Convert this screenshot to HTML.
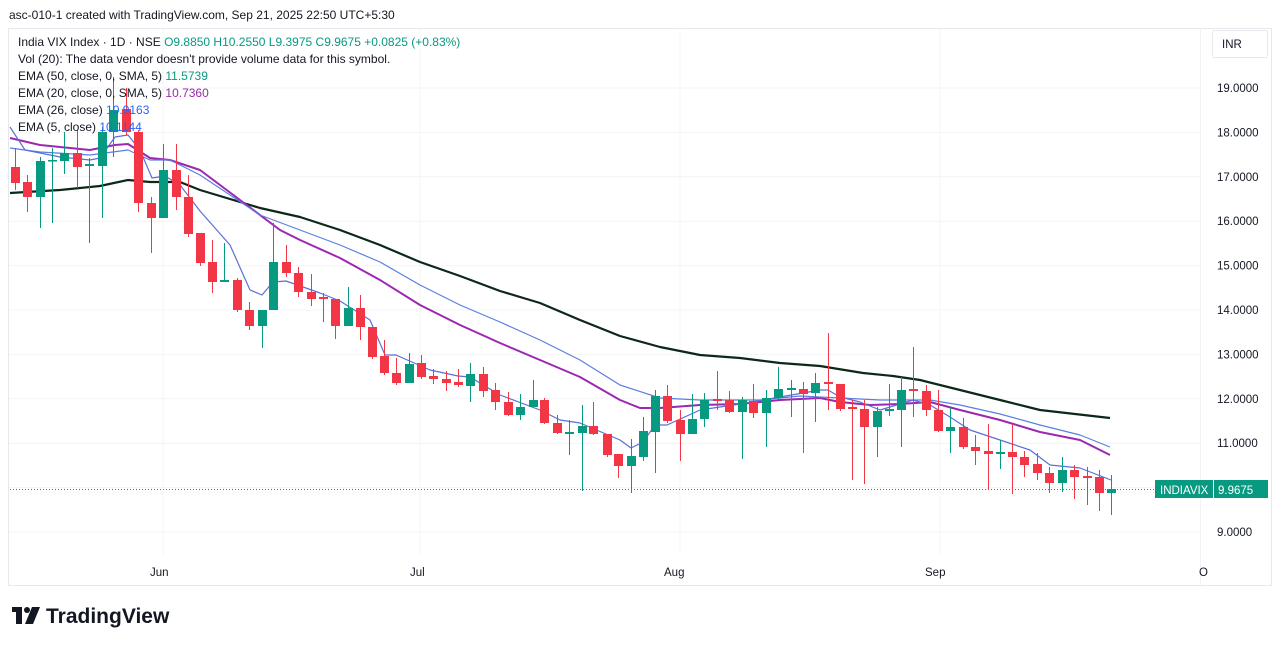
<!DOCTYPE html>
<html><head><meta charset="utf-8"><style>
html,body{margin:0;padding:0;background:#fff;width:1281px;height:646px;overflow:hidden;font-family:"Liberation Sans",sans-serif}
svg text{font-family:"Liberation Sans",sans-serif}
</style></head><body>
<svg id="s" width="1281" height="646" viewBox="0 0 1281 646" xmlns="http://www.w3.org/2000/svg">
<rect x="0" y="0" width="1281" height="646" fill="#fff"/>
<text x="9" y="19" font-size="12" fill="#131722">asc-010-1 created with TradingView.com, Sep 21, 2025 22:50 UTC+5:30</text>
<rect x="8.5" y="28.5" width="1263" height="557" fill="none" stroke="#e6e8ec"/>
<line x1="1200.5" y1="28" x2="1200.5" y2="585" stroke="#f0f2f5"/>
<g id="grid" stroke="#f3f4f6" stroke-width="1"></g>
<g id="ema"></g>
<g id="candles"></g>
<line x1="10" y1="489.5" x2="1156" y2="489.5" stroke="#089981" stroke-width="1" stroke-dasharray="1,2"/>
<rect x="1155" y="480" width="58" height="18" fill="#089981"/>
<text x="1160" y="494" font-size="11.5" fill="#fff">INDIAVIX</text>
<line x1="1213.5" y1="481" x2="1213.5" y2="497" stroke="#fff"/>
<rect x="1214" y="480" width="54" height="18" fill="#089981"/>
<text x="1218" y="494" font-size="11.5" fill="#fff">9.9675</text>
<rect x="1212.5" y="30.5" width="55" height="27" rx="2" fill="#fff" stroke="#e6e8ec"/>
<text x="1222" y="48" font-size="11.5" fill="#131722">INR</text>
<g font-size="11.5" fill="#131722" id="plabels"></g>
<g font-size="11.5" fill="#131722">
<text x="150" y="576">Jun</text><text x="410" y="576">Jul</text><text x="664" y="576">Aug</text><text x="925" y="576">Sep</text><text x="1199" y="576">O</text>
</g>
<g font-size="12">
<text x="18" y="46" fill="#131722">India VIX Index · 1D · NSE <tspan fill="#089981"> O9.8850  H10.2550  L9.3975  C9.9675  +0.0825 (+0.83%)</tspan></text>
<text x="18" y="63" fill="#131722">Vol (20): The data vendor doesn't provide volume data for this symbol.</text>
<text x="18" y="80" fill="#131722">EMA (50, close, 0, SMA, 5)  <tspan fill="#089981">11.5739</tspan></text>
<text x="18" y="97" fill="#131722">EMA (20, close, 0, SMA, 5)  <tspan fill="#9c27b0">10.7360</tspan></text>
<text x="18" y="114" fill="#131722">EMA (26, close)  <tspan fill="#2962ff">10.9163</tspan></text>
<text x="18" y="131" fill="#131722">EMA (5, close)  <tspan fill="#2962ff">10.1144</tspan></text>
</g>
<g>
<rect x="12" y="607" width="10" height="5" fill="#131722"/><rect x="16" y="607" width="6" height="17" fill="#131722"/>
<circle cx="27" cy="610" r="3" fill="#131722"/><polygon points="32,607 40,607 33,624 25,624" fill="#131722"/>
<text x="46" y="623" font-size="21" font-weight="bold" fill="#131722">TradingView</text>
</g>
</svg>
<script>
var NS="http://www.w3.org/2000/svg";
function el(p,t,a){var e=document.createElementNS(NS,t);for(var k in a)e.setAttribute(k,a[k]);document.getElementById(p).appendChild(e);return e;}
for(var v=9;v<=19;v++){var y=88+(19-v)*44.4;el("grid","line",{x1:9,x2:1200,y1:y,y2:y});if(v!=10){var t=el("plabels","text",{x:1217,y:y+4});t.textContent=v+".0000";}}
[163,420,680,940].forEach(function(x){el("grid","line",{x1:x,x2:x,y1:29,y2:555});});
var G="#089981",R="#f23645";
var C=[[15,148,190,167,183,R],[27,175,212,182,197,R],[40,157,228,161,197,G],[52,148,223,160,161,G],[64,132,174,153,161,G],[77,130,188,153,167,R],[89,158,243,164,166,G],[102,127,218,132,166,G],[113,77,157,110,132,G],[126,88,135,109,132,R],[138,130,212,132,203,R],[151,197,253,203,218,R],[163,144,218,170,218,G],[176,144,210,170,197,R],[188,175,237,197,234,R],[200,233,266,233,263,R],[212,240,293,262,282,R],[224,243,282,280,282,G],[237,278,312,280,310,R],[249,302,330,310,326,R],[262,310,348,310,326,G],[273,223,310,262,310,G],[286,245,277,262,273,R],[298,267,297,273,292,R],[311,274,306,292,299,R],[323,293,322,297,299,R],[335,299,339,299,326,R],[348,287,326,308,326,G],[360,295,340,308,327,R],[372,327,359,327,357,R],[384,340,375,356,373,R],[396,358,385,373,383,R],[409,353,383,364,383,G],[421,355,379,363,377,R],[433,369,384,376,379,R],[446,371,391,379,383,R],[458,369,387,382,385,R],[470,363,402,374,386,G],[483,367,397,374,391,R],[495,383,410,390,402,R],[508,392,416,402,415,R],[520,394,420,407,415,G],[533,380,407,400,407,G],[544,398,424,400,423,R],[557,415,434,423,433,R],[569,420,455,432,434,G],[582,405,491,426,433,G],[593,402,435,426,434,R],[607,434,457,434,455,R],[618,454,478,454,466,R],[631,439,493,456,466,G],[643,417,461,431,457,G],[655,390,473,396,432,G],[667,385,423,396,421,R],[680,410,461,420,434,R],[692,394,434,419,434,G],[704,393,427,400,419,G],[717,371,410,399,401,R],[729,391,413,400,412,R],[742,397,459,400,412,G],[753,384,418,401,413,R],[766,390,447,398,413,G],[778,367,400,389,398,G],[791,380,417,388,390,G],[803,382,453,389,394,R],[815,373,422,383,393,G],[828,333,410,382,384,R],[840,384,411,384,409,R],[852,400,480,407,409,R],[864,400,484,409,427,R],[877,407,457,411,427,G],[889,384,416,409,411,G],[901,377,447,390,410,G],[913,347,417,389,391,R],[926,385,416,391,410,R],[938,390,432,410,431,R],[950,408,453,427,431,G],[963,418,449,427,447,R],[975,435,465,447,451,R],[988,424,489,451,454,R],[1000,440,469,452,454,G],[1012,424,494,452,457,R],[1024,451,477,457,465,R],[1037,453,480,464,473,R],[1049,467,493,473,483,R],[1062,457,492,470,483,G],[1074,465,499,470,477,R],[1087,467,505,476,478,R],[1099,470,511,477,493,R],[1111,475,515,489,493,G]];
C.forEach(function(c){el("candles","line",{x1:c[0]+.5,x2:c[0]+.5,y1:c[1],y2:c[2],stroke:c[5],"stroke-width":1});
var h=Math.max(c[4]-c[3],1.5);el("candles","rect",{x:c[0]-4,y:c[3],width:9,height:h,fill:c[5]});});
function pl(pts,col,w){el("ema","polyline",{points:pts,fill:"none",stroke:col,"stroke-width":w,"stroke-linejoin":"round"});}
pl("10,193 60,190 100,186 128,180 150,182 180,182 200,190 260,208 300,217 340,230 380,245 420,262 460,276 500,291 540,303 580,320 620,336 660,347 700,355 740,358 780,363 820,366 863,373 893,376 920,380 960,390 1000,400 1040,410 1110,418","#0d2818",2.2);
pl("10,138 40,145 90,150 100,148 115,145 128,144 150,158 170,160 200,170 240,200 280,230 300,240 340,258 380,280 420,305 460,325 500,343 540,360 580,377 620,400 640,408 660,408 700,405 740,404 780,400 820,398 840,402 870,405 900,404 930,402 960,410 1000,420 1040,432 1080,440 1110,455","#9c27b0",2);
pl("10,148 40,152 90,155 128,150 150,160 170,160 200,175 260,215 300,230 340,245 380,262 420,285 460,305 500,322 540,340 580,360 620,385 660,398 700,400 760,400 800,396 840,398 880,400 930,400 960,405 1000,414 1040,425 1080,435 1110,447","#5b7fe0",1.2);
pl("10,127 25,150 60,157 90,160 100,158 115,137 128,135 140,150 152,178 165,176 180,185 200,211 230,245 250,290 262,295 273,282 286,281 320,293 340,301 370,320 385,355 396,355 430,370 458,376 470,377 500,395 540,410 560,420 580,423 620,440 631,448 643,442 655,425 667,425 700,410 740,404 780,397 820,390 828,390 840,397 860,402 880,410 900,404 913,400 930,405 950,417 970,430 1000,440 1030,450 1050,465 1080,468 1111,480","#5b6fd6",1.2);
</script>
</body></html>
